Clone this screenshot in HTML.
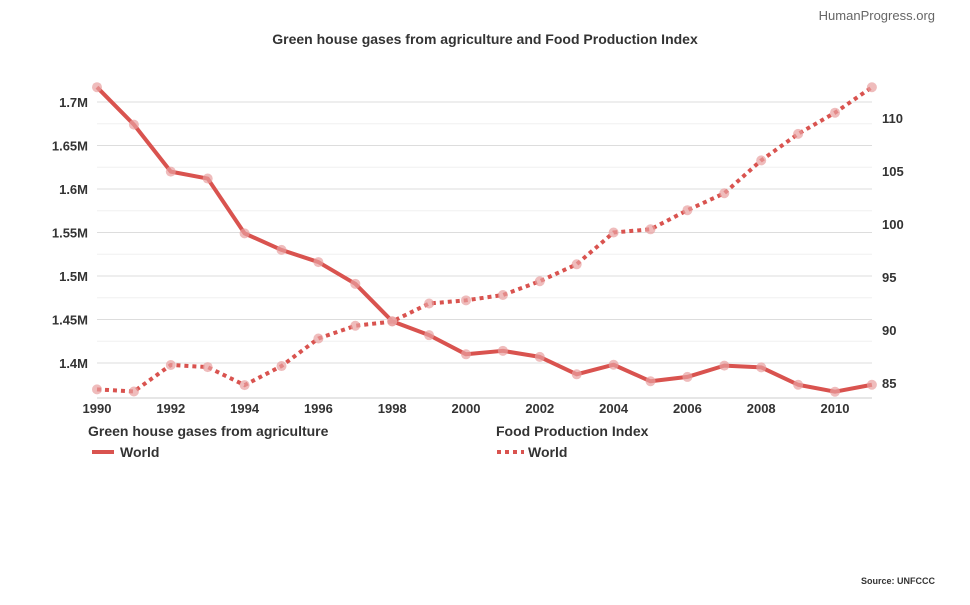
<!DOCTYPE html>
<html><head><meta charset="utf-8"><style>
body{margin:0;background:#fff;font-family:"Liberation Sans",sans-serif;}
svg text{font-family:"Liberation Sans",sans-serif;}
</style></head><body>
<svg id="chart" width="970" height="600">
<text x="935" y="20" text-anchor="end" font-size="13" fill="#666">HumanProgress.org</text>
<text x="485" y="44" text-anchor="middle" font-size="14" font-weight="bold" fill="#333">Green house gases from agriculture and Food Production Index</text>
<g id="grid"></g>
<g id="yl"></g>
<g id="yr"></g>
<g id="xa"></g>
<g id="series"></g>
<text x="88" y="436" font-size="14" font-weight="bold" fill="#333">Green house gases from agriculture</text>
<line x1="92" y1="452" x2="114" y2="452" stroke="#d9534f" stroke-width="4"/>
<text x="120" y="457" font-size="14" font-weight="bold" fill="#333">World</text>
<text x="496" y="436" font-size="14" font-weight="bold" fill="#333">Food Production Index</text>
<line x1="497" y1="452" x2="524" y2="452" stroke="#d9534f" stroke-width="4" stroke-dasharray="4,4"/>
<text x="528" y="457" font-size="14" font-weight="bold" fill="#333">World</text>
<text x="935" y="584" text-anchor="end" font-size="9" font-weight="bold" fill="#333">Source: UNFCCC</text>
</svg>
<script>
const years=[1990,1991,1992,1993,1994,1995,1996,1997,1998,1999,2000,2001,2002,2003,2004,2005,2006,2007,2008,2009,2010,2011];
const ghg=[1.717,1.674,1.620,1.612,1.549,1.530,1.516,1.491,1.448,1.432,1.410,1.414,1.407,1.387,1.398,1.379,1.384,1.397,1.395,1.375,1.367,1.375];
const fpi=[84.4,84.2,86.7,86.5,84.8,86.6,89.2,90.4,90.8,92.5,92.8,93.3,94.6,96.2,99.2,99.5,101.3,102.9,106.0,108.5,110.5,112.9];
const leftTicks=[1.4,1.45,1.5,1.55,1.6,1.65,1.7];
const leftLabels=["1.4M","1.45M","1.5M","1.55M","1.6M","1.65M","1.7M"];
const rightTicks=[85,90,95,100,105,110];
const xTicks=[1990,1992,1994,1996,1998,2000,2002,2004,2006,2008,2010];
const NS="http://www.w3.org/2000/svg";
const x=v=>97+(v-1990)*36.9;
const yl=v=>102+(1.7-v)*870;
const yr=v=>118+(110-v)*10.6;
function mk(p,t,a){const e=document.createElementNS(NS,t);for(const k in a)e.setAttribute(k,a[k]);p.appendChild(e);return e;}
const grid=document.getElementById('grid');
for(let i=0;i<leftTicks.length;i++){
  const v=leftTicks[i];
  const l=mk(grid,'line',{x1:97,x2:872,y1:yl(v),y2:yl(v),stroke:'#ddd','stroke-width':1});
  
  
  if(i<leftTicks.length-1){
    const m=mk(grid,'line',{x1:97,x2:872,y1:yl(v+0.025),y2:yl(v+0.025),stroke:'#f0f0f0','stroke-width':1});
    
    
  }
  const t=mk(document.getElementById('yl'),'text',{x:88,y:yl(v)+5,'text-anchor':'end','font-size':13,'font-weight':'bold',fill:'#333'});
  t.textContent=leftLabels[i];
  
  
}
rightTicks.forEach(v=>{
  const t=mk(document.getElementById('yr'),'text',{x:882,y:yr(v)+5,'font-size':13,'font-weight':'bold',fill:'#333'});
  t.textContent=v;
  
  
});
const xa=document.getElementById('xa');
const ax=mk(xa,'line',{x1:97,x2:872,y1:398,y2:398,stroke:'#ccc'});


xTicks.forEach(v=>{
  const t=mk(xa,'text',{x:x(v),y:413,'text-anchor':'middle','font-size':13,'font-weight':'bold',fill:'#333'});
  t.textContent=v;
  
  
});
const s=document.getElementById('series');
const p1=mk(s,'polyline',{points:years.map((y,i)=>x(y)+','+yl(ghg[i])).join(' '),fill:'none',stroke:'#d9534f','stroke-width':4,'stroke-linejoin':'round'});


const p2=mk(s,'polyline',{points:years.map((y,i)=>x(y)+','+yr(fpi[i])).join(' '),fill:'none',stroke:'#d9534f','stroke-width':4,'stroke-dasharray':'4,4'});


years.forEach((y,i)=>{
  const c=mk(s,'circle',{cx:x(y),cy:yl(ghg[i]),r:5,fill:'#e8a0a0','fill-opacity':0.7});
  
  
  const d=mk(s,'circle',{cx:x(y),cy:yr(fpi[i]),r:5,fill:'#e8a0a0','fill-opacity':0.7});
  
  
});
</script>
</body></html>
